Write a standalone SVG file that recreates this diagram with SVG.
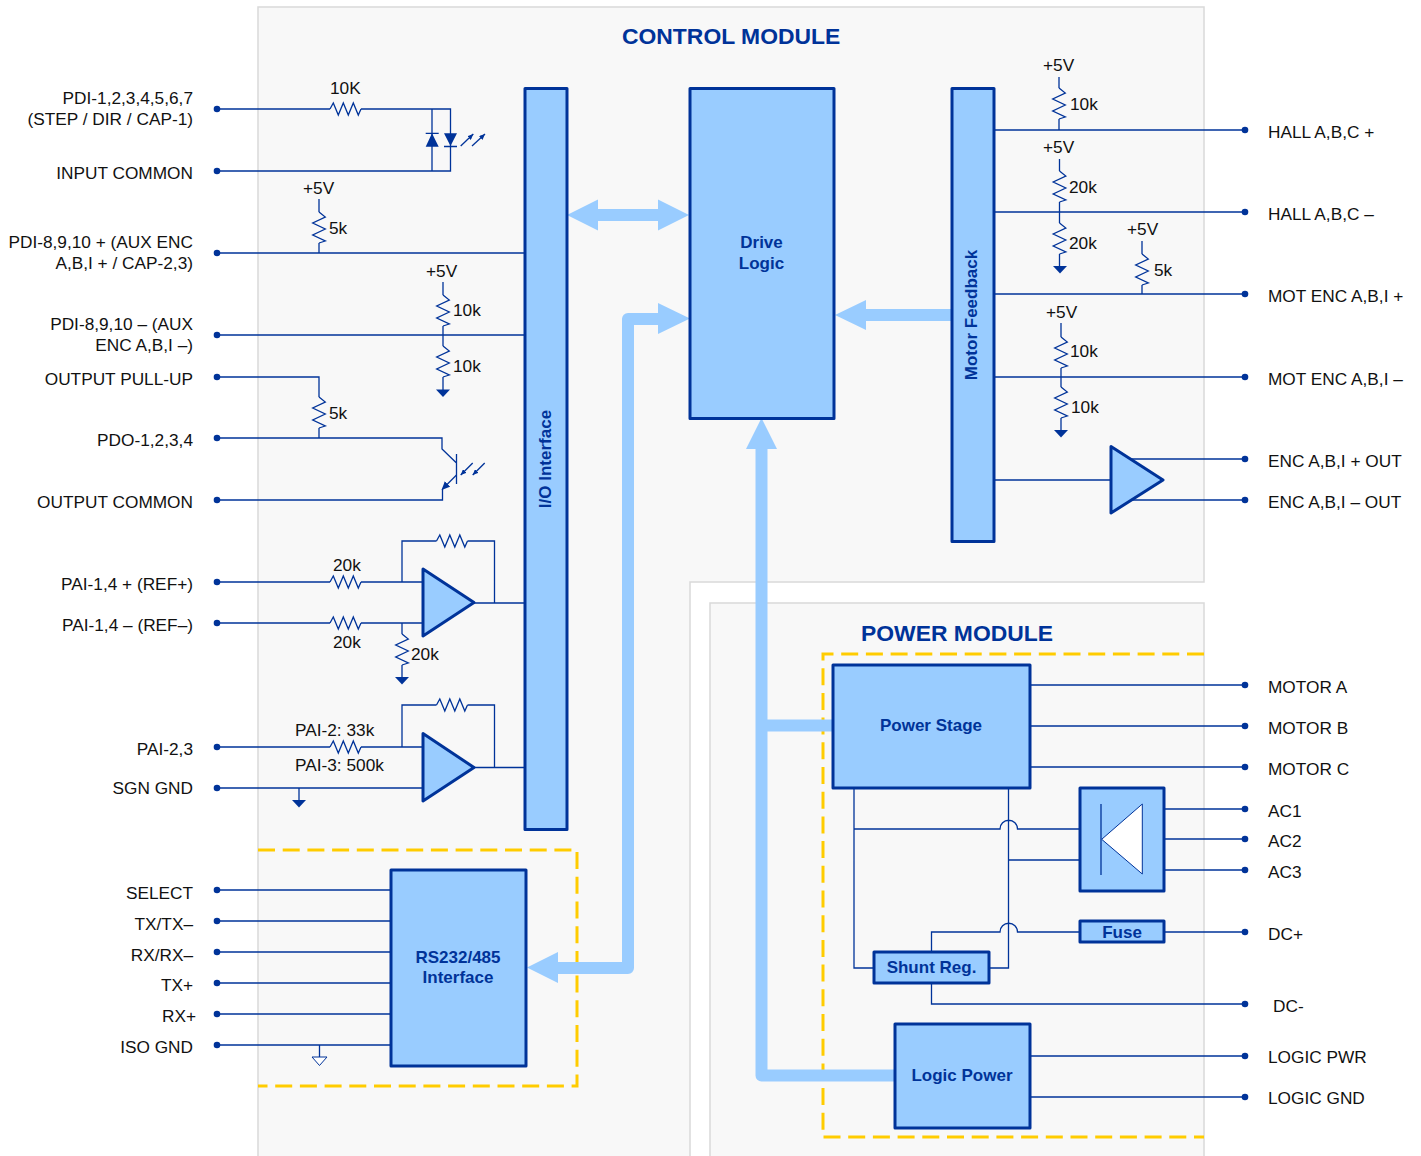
<svg xmlns="http://www.w3.org/2000/svg" xmlns:xlink="http://www.w3.org/1999/xlink" width="1421" height="1156" viewBox="0 0 1421 1156">
<style>
text{font-family:"Liberation Sans",Arial,sans-serif;font-size:17.25px;fill:#111}
.e{text-anchor:end}
.b{font-weight:bold;fill:#003399;font-size:17px;text-anchor:middle}
.t{font-weight:bold;fill:#003399;font-size:22.9px}
.bg{fill:#f8f8f8;stroke:#d9d9d9;stroke-width:1.5}
.box{fill:#99ccff;stroke:#003399;stroke-width:3;stroke-linejoin:round}
.w{fill:none;stroke:#003399;stroke-width:1.3}
.f{fill:#003399;stroke:none}
.bus{fill:none;stroke:#99ccff;stroke-width:12;stroke-linejoin:round}
.hd{fill:#99ccff;stroke:none}
.dash{fill:none;stroke:#ffcc00;stroke-width:3;stroke-dasharray:17 7.7}
</style>
<defs>
<path id="rh" class="w" d="M0,0L3.3,-6 8.3,6 13.3,-6 18.3,6 23.3,-6 28.3,6 31,0"/>
<path id="rv" class="w" d="M0,0L6.300,5 -6.300,11 6.300,17 -6.300,23 6.300,29 0,31"/>
<circle id="dot" r="3.300" class="f"/>
<path id="gnd" class="f" d="M-7,0H7L0,7.500Z"/>
<marker id="ah" markerWidth="4.500" markerHeight="4" refX="4.500" refY="2" orient="auto"><path d="M0,0L4.500,2 0,4Z" fill="#003399"/></marker>
<marker id="ahe" markerWidth="6.500" markerHeight="6" refX="5.500" refY="3" orient="auto"><path d="M0,0L6.500,3 0,6Z" fill="#003399"/></marker>
</defs>
<g id="module-backgrounds">
<path class="bg" d="M258,1156V7H1204V582H690V1156"/>
<path class="bg" d="M710,1156V603H1204V1156"/>
</g>
<g id="group-outlines">
<path class="dash" d="M1204,654H823V1137H1204"/>
<path class="dash" d="M258,850H577V1086H258"/>
</g>
<g id="titles">
<text class="t" x="622" y="44">CONTROL MODULE</text>
<text class="t" x="861" y="641">POWER MODULE</text>
</g>
<g id="connectors">
<g id="buses">
<path class="bus" d="M595,215H662"/>
<path class="hd" d="M567,215L598,199.500V230.500Z"/>
<path class="hd" d="M689,215L658,199.500V230.500Z"/>
<path class="bus" d="M662,319H628V968H555"/>
<path class="hd" d="M690,318.500L658,303V334Z"/>
<path class="hd" d="M527,967.500L558,952V983Z"/>
<path class="bus" d="M952,315H862"/>
<path class="hd" d="M835,315L866,300V330Z"/>
<path class="bus" d="M761.500,445V1075.500H895"/>
<path class="bus" d="M761.500,725.500H833"/>
<path class="hd" d="M761.500,418L777,449H746Z"/>
</g>
<g id="wires">
<path class="w" d="M217,109H330M361,109H450.500V171H217M432,109V171"/>
<path class="f" d="M425.700,146.700H438.700L432,133.300ZM444,133.300H457L450.500,146Z"/>
<path class="w" d="M425.700,133.300H438.700M444,146.500H457"/>
<path class="w" d="M460.700,146L473.300,134" marker-end="url(#ah)"/>
<path class="w" d="M472,146L485,134" marker-end="url(#ah)"/>
<path class="w" d="M217,253H525M319,199V212M319,243V253"/>
<path class="w" d="M217,335H525M443,282V295M443,326V346M443,377V390"/>
<path class="w" d="M217,377H319V397M319,428V438"/>
<path class="w" d="M217,438H442V449L456.500,463M456.500,454V484"/>
<path class="w" d="M456.500,475L442.500,489" marker-end="url(#ahe)"/>
<path class="w" d="M442.500,489V500H217"/>
<path class="w" d="M472.700,463L460.700,475" marker-end="url(#ah)"/>
<path class="w" d="M484.700,463L472.700,475" marker-end="url(#ah)"/>
<path class="w" d="M217,582H330M361,582H423M217,623H330M361,623H423M402,582V541H436.500M467.500,541H494.500V603M474,603H525M402,623V634M402,665V678"/>
<path class="w" d="M217,747H330M361,747H423M217,788H423M299,788V801M402,747V705H436.500M467.500,705H494.500V767.500M474,767.500H525"/>
<path class="w" d="M217,890H391M217,921H391M217,952H391M217,983H391M217,1014H391M217,1045H391M319.500,1045V1057"/>
<path d="M312,1057H327L319.500,1065.500Z" fill="#fff" stroke="#003399" stroke-width="1"/>
<path class="w" d="M994,130H1245M1059,77V88M1059,119V130"/>
<path class="w" d="M994,212H1245M1059.500,159V171M1059.500,202V223M1059.500,254V266"/>
<path class="w" d="M994,294H1245M1142,241V254M1142,285V294"/>
<path class="w" d="M994,377H1245M1061,323V337M1061,368V387M1061,418V430"/>
<path class="w" d="M994,480H1111M1130,459H1245M1130,500H1245"/>
<path class="w" d="M1030,685H1245M1030,726H1245M1030,767H1245"/>
<path class="w" d="M854,788V968H874M1008.500,788V968H989M854,829H1000A8.500,8.500 0 0 1 1017.500,829H1080M1008.500,860H1080"/>
<path class="w" d="M931.500,952V932H1000A8.500,8.500 0 0 1 1017.500,932H1080M1164,932H1245M931.500,983V1004H1245"/>
<path class="w" d="M1164,809H1245M1164,839H1245M1164,870H1245"/>
<path class="w" d="M1030,1056H1245M1030,1097H1245"/>
</g>
<g id="resistors">
<use href="#rh" x="330" y="109"/>
<use href="#rv" x="319" y="212"/>
<use href="#rv" x="443" y="295"/>
<use href="#rv" x="443" y="346"/>
<use href="#rv" x="319" y="397"/>
<use href="#rh" x="330" y="582"/>
<use href="#rh" x="330" y="623"/>
<use href="#rh" x="436.500" y="541"/>
<use href="#rv" x="402" y="634"/>
<use href="#rh" x="330" y="747"/>
<use href="#rh" x="436.500" y="705"/>
<use href="#rv" x="1059" y="88"/>
<use href="#rv" x="1059.500" y="171"/>
<use href="#rv" x="1059.500" y="223"/>
<use href="#rv" x="1142" y="254"/>
<use href="#rv" x="1061" y="337"/>
<use href="#rv" x="1061" y="387"/>
</g>
<g id="grounds">
<use href="#gnd" x="443" y="389.500"/>
<use href="#gnd" x="402" y="677"/>
<use href="#gnd" x="299" y="800"/>
<use href="#gnd" x="1060" y="266"/>
<use href="#gnd" x="1061" y="430"/>
</g>
<g id="terminals">
<use href="#dot" x="217" y="109"/><use href="#dot" x="217" y="171"/><use href="#dot" x="217" y="253"/><use href="#dot" x="217" y="335"/><use href="#dot" x="217" y="377"/><use href="#dot" x="217" y="438"/><use href="#dot" x="217" y="500"/><use href="#dot" x="217" y="582"/><use href="#dot" x="217" y="623"/><use href="#dot" x="217" y="747"/><use href="#dot" x="217" y="788"/><use href="#dot" x="217" y="890"/><use href="#dot" x="217" y="921"/><use href="#dot" x="217" y="952"/><use href="#dot" x="217" y="983"/><use href="#dot" x="217" y="1014"/><use href="#dot" x="217" y="1045"/>
<use href="#dot" x="1245" y="130"/><use href="#dot" x="1245" y="212"/><use href="#dot" x="1245" y="294"/><use href="#dot" x="1245" y="377"/><use href="#dot" x="1245" y="459"/><use href="#dot" x="1245" y="500"/><use href="#dot" x="1245" y="685"/><use href="#dot" x="1245" y="726"/><use href="#dot" x="1245" y="767"/><use href="#dot" x="1245" y="809"/><use href="#dot" x="1245" y="839"/><use href="#dot" x="1245" y="870"/><use href="#dot" x="1245" y="932"/><use href="#dot" x="1245" y="1004"/><use href="#dot" x="1245" y="1056"/><use href="#dot" x="1245" y="1097"/>
</g>
</g>
<g id="io-interface"><rect class="box" x="525" y="88.500" width="42" height="741"/><text class="b" transform="translate(551,459) rotate(-90)">I/O Interface</text></g>
<g id="drive-logic"><rect class="box" x="690" y="88.500" width="144" height="330"/><text class="b" x="761.500" y="248">Drive</text><text class="b" x="761.500" y="269">Logic</text></g>
<g id="motor-feedback"><rect class="box" x="952" y="88.500" width="42" height="453"/><text class="b" transform="translate(977,315) rotate(-90)">Motor Feedback</text></g>
<g id="rs232-interface"><rect class="box" x="391" y="870" width="135" height="196"/><text class="b" x="458" y="963">RS232/485</text><text class="b" x="458" y="983">Interface</text></g>
<g id="power-stage"><rect class="box" x="833" y="665" width="197" height="123"/><text class="b" x="931" y="731">Power Stage</text></g>
<g id="logic-power"><rect class="box" x="895" y="1024" width="135" height="104"/><text class="b" x="962" y="1081">Logic Power</text></g>
<g id="rectifier"><rect class="box" x="1080" y="788" width="84" height="103"/><path d="M1101,804V875" class="w" stroke-width="1"/><path d="M1101.700,839.300L1142.300,804V874Z" fill="#fff" stroke="#003399" stroke-width="1"/></g>
<g id="fuse"><rect class="box" x="1080" y="921" width="84" height="21"/><text class="b" x="1122" y="938">Fuse</text></g>
<g id="shunt-reg"><rect class="box" x="874" y="952" width="115" height="31"/><text class="b" x="931.500" y="973">Shunt Reg.</text></g>
<g id="amp-1"><path class="box" d="M423,569L474,602.500 423,636Z" stroke-width="3.500"/></g>
<g id="amp-2"><path class="box" d="M423,733.500L474,767.500 423,801Z" stroke-width="3.500"/></g>
<g id="amp-3"><path class="box" d="M1111,446.500L1163,480 1111,513Z" stroke-width="3.500"/></g>
<g id="left-labels">
<text class="e" x="193" y="104">PDI-1,2,3,4,5,6,7</text>
<text class="e" x="193" y="125">(STEP / DIR / CAP-1)</text>
<text class="e" x="193" y="179">INPUT COMMON</text>
<text class="e" x="193" y="248">PDI-8,9,10 + (AUX ENC</text>
<text class="e" x="193" y="269">A,B,I + / CAP-2,3)</text>
<text class="e" x="193" y="330">PDI-8,9,10 – (AUX</text>
<text class="e" x="193" y="351">ENC A,B,I –)</text>
<text class="e" x="193" y="385">OUTPUT PULL-UP</text>
<text class="e" x="193" y="446">PDO-1,2,3,4</text>
<text class="e" x="193" y="508">OUTPUT COMMON</text>
<text class="e" x="193" y="590">PAI-1,4 + (REF+)</text>
<text class="e" x="193" y="631">PAI-1,4 – (REF–)</text>
<text class="e" x="193" y="755">PAI-2,3</text>
<text class="e" x="193" y="794">SGN GND</text>
<text class="e" x="193" y="899">SELECT</text>
<text class="e" x="193" y="930">TX/TX–</text>
<text class="e" x="193" y="961">RX/RX–</text>
<text class="e" x="193" y="991">TX+</text>
<text class="e" x="196" y="1022">RX+</text>
<text class="e" x="193" y="1053">ISO GND</text>
</g>
<g id="right-labels">
<text x="1268" y="138">HALL A,B,C +</text>
<text x="1268" y="220">HALL A,B,C –</text>
<text x="1268" y="302">MOT ENC A,B,I +</text>
<text x="1268" y="385">MOT ENC A,B,I –</text>
<text x="1268" y="467">ENC A,B,I + OUT</text>
<text x="1268" y="508">ENC A,B,I – OUT</text>
<text x="1268" y="693">MOTOR A</text>
<text x="1268" y="734">MOTOR B</text>
<text x="1268" y="775">MOTOR C</text>
<text x="1268" y="817">AC1</text>
<text x="1268" y="847">AC2</text>
<text x="1268" y="878">AC3</text>
<text x="1268" y="940">DC+</text>
<text x="1273" y="1012">DC-</text>
<text x="1268" y="1063">LOGIC PWR</text>
<text x="1268" y="1104">LOGIC GND</text>
</g>
<g id="component-labels">
<text x="330" y="94">10K</text>
<text x="303" y="194">+5V</text><text x="329" y="234">5k</text>
<text x="426" y="277">+5V</text><text x="453" y="316">10k</text><text x="453" y="372">10k</text>
<text x="329" y="419">5k</text>
<text x="333" y="571">20k</text><text x="333" y="648">20k</text><text x="411" y="660">20k</text>
<text x="295" y="736">PAI-2: 33k</text><text x="295" y="771">PAI-3: 500k</text>
<text x="1043" y="71">+5V</text><text x="1070" y="110">10k</text>
<text x="1043" y="153">+5V</text><text x="1069" y="193">20k</text><text x="1069" y="249">20k</text>
<text x="1127" y="235">+5V</text><text x="1154" y="276">5k</text>
<text x="1046" y="318">+5V</text><text x="1070" y="357">10k</text><text x="1071" y="413">10k</text>
</g>
</svg>
